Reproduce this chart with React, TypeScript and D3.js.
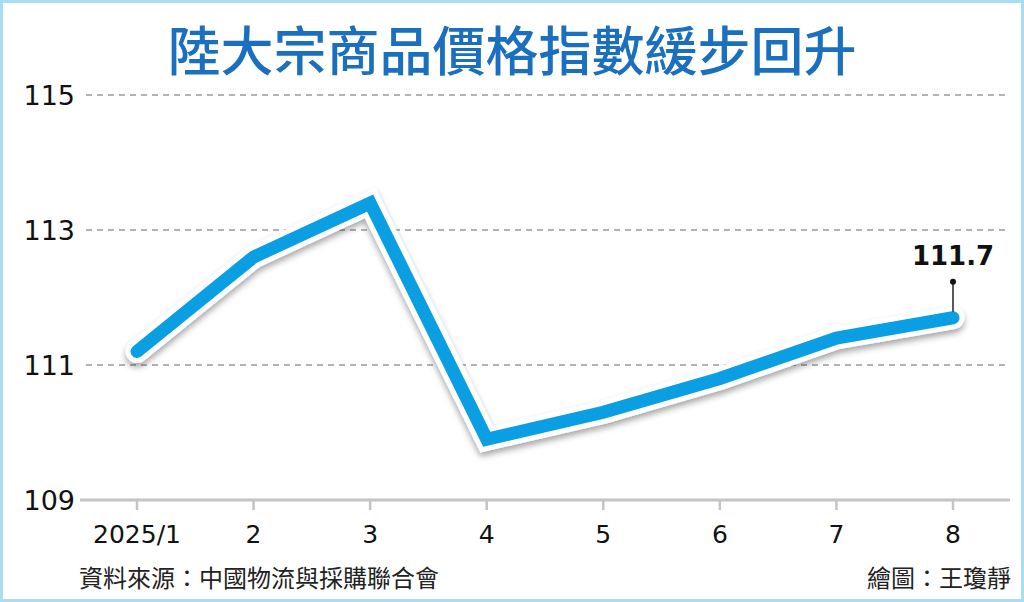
import React, { useEffect, useRef } from "react";
import * as d3 from "d3";

const months = ["2025/1", "2", "3", "4", "5", "6", "7", "8"];
const values = [111.2, 112.6, 113.4, 109.9, 110.3, 110.8, 111.4, 111.7];
const yTicks = [109, 111, 113, 115];

const W = 1024;
const H = 602;
const BLUE = "#0a9ee3";

const App: React.FC = () => {
  const ref = useRef<SVGSVGElement>(null);

  useEffect(() => {
    if (!ref.current) return;
    const svg = d3.select(ref.current);
    svg.selectAll("*").remove();

    const x = d3.scalePoint<string>().domain(months).range([137, 953]);
    const y = d3.scaleLinear().domain([109, 115]).range([500, 95]);

    // background + light blue frame
    svg.append("rect")
      .attr("x", 1.5).attr("y", 1.5)
      .attr("width", W - 3).attr("height", H - 3)
      .attr("fill", "#fff")
      .attr("stroke", "#a9dcf5")
      .attr("stroke-width", 3);

    const defs = svg.append("defs");
    const filter = defs.append("filter")
      .attr("id", "shadow")
      .attr("x", "-10%").attr("y", "-10%")
      .attr("width", "120%").attr("height", "130%");
    filter.append("feDropShadow")
      .attr("dx", 0).attr("dy", 4)
      .attr("stdDeviation", 3)
      .attr("flood-color", "#000")
      .attr("flood-opacity", 0.35);

    // title
    svg.append("text")
      .attr("x", 512).attr("y", 71)
      .attr("text-anchor", "middle")
      .style("font-family", "'Noto Sans CJK TC', sans-serif")
      .style("font-size", "53px")
      .style("font-weight", "500")
      .style("fill", "#1b6fbf")
      .text("陸大宗商品價格指數緩步回升");

    // grid
    svg.append("g")
      .selectAll("line")
      .data(yTicks.filter((t) => t !== 109))
      .join("line")
      .attr("x1", 86).attr("x2", 1005)
      .attr("y1", (d) => y(d)).attr("y2", (d) => y(d))
      .attr("stroke", "#9a9a9a")
      .attr("stroke-width", 1.3)
      .attr("stroke-dasharray", "6,5");

    // y labels
    svg.append("g")
      .selectAll("text")
      .data(yTicks)
      .join("text")
      .attr("x", 75)
      .attr("y", (d) => y(d) + 10)
      .attr("text-anchor", "end")
      .style("font-family", "'DejaVu Sans', sans-serif")
      .style("font-size", "27px")
      .style("fill", "#111")
      .text((d) => d);

    // x axis
    svg.append("line")
      .attr("x1", 80).attr("x2", 1010)
      .attr("y1", y(109)).attr("y2", y(109))
      .attr("stroke", "#c4c4c4")
      .attr("stroke-width", 3);

    svg.append("g")
      .selectAll("line")
      .data(months)
      .join("line")
      .attr("x1", (d) => x(d)!).attr("x2", (d) => x(d)!)
      .attr("y1", y(109)).attr("y2", y(109) + 10)
      .attr("stroke", "#c4c4c4")
      .attr("stroke-width", 2.5);

    svg.append("g")
      .selectAll("text")
      .data(months)
      .join("text")
      .attr("x", (d) => x(d)!)
      .attr("y", 543)
      .attr("text-anchor", "middle")
      .style("font-family", "'DejaVu Sans', sans-serif")
      .style("font-size", "25px")
      .style("fill", "#111")
      .text((d) => d);

    // line
    const line = d3.line<number>()
      .x((_d, i) => x(months[i])!)
      .y((d) => y(d));

    svg.append("path")
      .attr("d", line(values))
      .attr("fill", "none")
      .attr("stroke", "#fff")
      .attr("stroke-width", 23)
      .attr("stroke-linecap", "round")
      .attr("stroke-linejoin", "miter")
      .attr("filter", "url(#shadow)");

    svg.append("path")
      .attr("d", line(values))
      .attr("fill", "none")
      .attr("stroke", BLUE)
      .attr("stroke-width", 13)
      .attr("stroke-linecap", "round")
      .attr("stroke-linejoin", "miter");

    // last value annotation
    const lastI = values.length - 1;
    const lx = x(months[lastI])!;
    const ly = y(values[lastI]);
    svg.append("line")
      .attr("x1", lx).attr("x2", lx)
      .attr("y1", ly - 35).attr("y2", ly - 6)
      .attr("stroke", "#222")
      .attr("stroke-width", 1.5);
    svg.append("circle")
      .attr("cx", lx).attr("cy", ly - 36)
      .attr("r", 3)
      .attr("fill", "#111");
    svg.append("text")
      .attr("x", lx)
      .attr("y", ly - 53)
      .attr("text-anchor", "middle")
      .style("font-family", "'DejaVu Sans', sans-serif")
      .style("font-size", "26px")
      .style("font-weight", "bold")
      .style("fill", "#111")
      .text(values[lastI].toFixed(1));

    // footer
    svg.append("text")
      .attr("x", 79).attr("y", 587)
      .style("font-family", "'Noto Sans CJK TC', sans-serif")
      .style("font-size", "24px")
      .style("fill", "#222")
      .text("資料來源：中國物流與採購聯合會");
    svg.append("text")
      .attr("x", 1011).attr("y", 587)
      .attr("text-anchor", "end")
      .style("font-family", "'Noto Sans CJK TC', sans-serif")
      .style("font-size", "24px")
      .style("fill", "#222")
      .text("繪圖：王瓊靜");
  }, []);

  return (
    <svg
      ref={ref}
      width={W}
      height={H}
      style={{ position: "absolute", left: 0, top: 0, display: "block" }}
    />
  );
};

export default App;
